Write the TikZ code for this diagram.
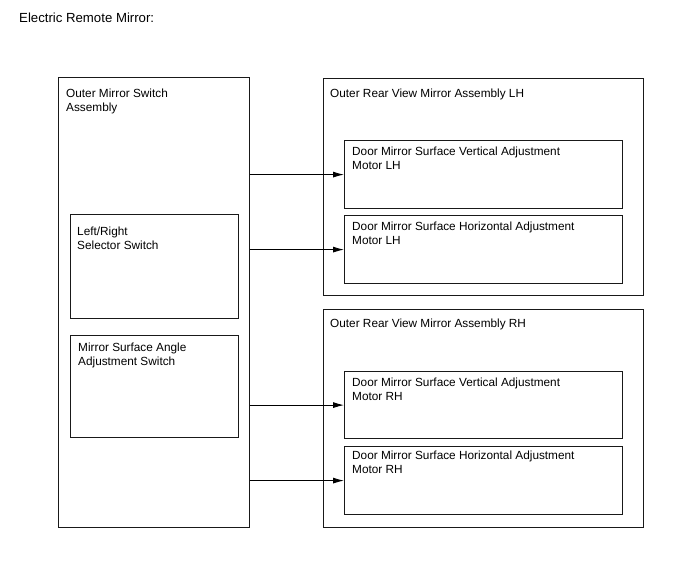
\documentclass[tikz,border=0pt]{standalone}
\usepackage{fontspec}
\setmainfont{Liberation Sans}
\usetikzlibrary{arrows.meta,positioning}

\begin{document}
\begin{tikzpicture}[
    x=1pt, y=-1pt,
    font=\fontsize{11.8}{14}\selectfont,
    frame/.style={rectangle, draw=black!90, line width=1.2pt, anchor=north west, inner sep=0pt},
    txt/.style={anchor=base west, align=left, inner sep=0pt},
    sig/.style={-{Latex[length=11pt, width=6pt]}, line width=0.9pt}
]
\useasboundingbox (0,0) rectangle (688,560);
\node[txt, font=\fontsize{13.2}{16}\selectfont] (title) at (19,22) {Electric Remote Mirror:};

\node[frame, minimum width=191pt, minimum height=450pt] (sw) at (58,77) {};
\node[frame, minimum width=168pt, minimum height=104pt] (lrsel) at (70,214) {};
\node[frame, minimum width=168pt, minimum height=102pt] (angsw) at (70,335) {};
\node[frame, minimum width=320pt, minimum height=217pt] (lhasm) at (323,78) {};
\node[frame, minimum width=278pt, minimum height=68pt] (lhvert) at (344,140) {};
\node[frame, minimum width=278pt, minimum height=68pt] (lhhor) at (344,215) {};
\node[frame, minimum width=320pt, minimum height=218pt] (rhasm) at (323,309) {};
\node[frame, minimum width=278pt, minimum height=67pt] (rhvert) at (344,371) {};
\node[frame, minimum width=278pt, minimum height=68pt] (rhhor) at (344,446) {};

% two-line texts sit on the baseline of their last line
\node[txt] (swtxt) at (66,111) {Outer Mirror Switch\\Assembly};
\node[txt] (lrtxt) at (77,249) {Left/Right\\Selector Switch};
\node[txt] (angtxt) at (78,365) {Mirror Surface Angle\\Adjustment Switch};
\node[txt] (lhtxt) at (330,97) {Outer Rear View Mirror Assembly LH};
\node[txt] (lhvtxt) at (352,169) {Door Mirror Surface Vertical Adjustment\\Motor LH};
\node[txt] (lhhtxt) at (352,244) {Door Mirror Surface Horizontal Adjustment\\Motor LH};
\node[txt] (rhtxt) at (330,327) {Outer Rear View Mirror Assembly RH};
\node[txt] (rhvtxt) at (352,400) {Door Mirror Surface Vertical Adjustment\\Motor RH};
\node[txt] (rhhtxt) at (352,473) {Door Mirror Surface Horizontal Adjustment\\Motor RH};

\draw[sig] (sw.east |- lhvert.west) -- (lhvert.west);
\draw[sig] (sw.east |- lhhor.west) -- (lhhor.west);
\draw[sig] (sw.east |- rhvert.west) -- (rhvert.west);
\draw[sig] (sw.east |- rhhor.west) -- (rhhor.west);
\end{tikzpicture}
\end{document}
